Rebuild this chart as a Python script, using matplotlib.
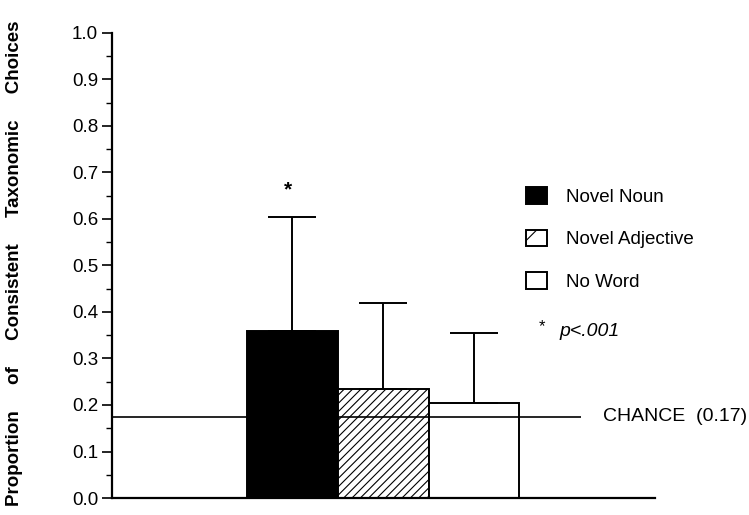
import matplotlib

matplotlib.use("Agg")
import matplotlib.pyplot as plt
from matplotlib.patches import Patch

plt.rcParams["font.family"] = ["Liberation Sans", "DejaVu Sans"]
plt.rcParams["hatch.linewidth"] = 0.8

conditions = ["Novel Noun", "Novel Adjective", "No Word"]
means = [0.36, 0.235, 0.205]
upper_sd = [0.245, 0.185, 0.15]
chance = 0.175
chance_label = "CHANCE  (0.17)"
y_ticks = [0.0, 0.1, 0.2, 0.3, 0.4, 0.5, 0.6, 0.7, 0.8, 0.9, 1.0]
y_minor = [0.05, 0.15, 0.25, 0.35, 0.45, 0.55, 0.65, 0.75, 0.85, 0.95]

fills = ["black", "white", "white"]
hatches = [None, "////", None]

fig = plt.figure(figsize=(7.49, 5.15), dpi=100)
ax = fig.add_axes([0.1495, 0.033, 0.725, 0.903])

x = list(range(len(conditions)))
for xi, m, err, fc, h in zip(x, means, upper_sd, fills, hatches):
    ax.bar(xi, m, width=1.0, color=fc, edgecolor="black", linewidth=1.4, hatch=h, zorder=2)
    ax.errorbar(xi, m, yerr=[[0], [err]], fmt="none", ecolor="black",
                elinewidth=1.4, capsize=17, capthick=1.4, zorder=3)

# chance line runs over the open bars
ax.hlines(chance, -1.98, 3.18, color="black", linewidth=1.2, zorder=4)
ax.text(3.42, chance, chance_label, fontsize=14, va="center", ha="left")

# significance marker
ax.text(x[0] - 0.05, means[0] + upper_sd[0] + 0.057, "*", fontsize=15,
        fontweight="bold", ha="center", va="center")

ax.set_xlim(-1.98, 3.99)
ax.set_ylim(0, 1.0)
ax.set_yticks(y_ticks)
ax.set_yticklabels([f"{t:.1f}" for t in y_ticks], fontsize=13.5)
ax.set_yticks(y_minor, minor=True)
ax.tick_params(axis="y", which="major", length=7, width=1.2, direction="out", pad=3)
ax.tick_params(axis="y", which="minor", length=4, width=1.0, direction="out")
ax.set_xticks([])
for side in ["top", "right"]:
    ax.spines[side].set_visible(False)
for side in ["left", "bottom"]:
    ax.spines[side].set_linewidth(1.6)

ax.set_ylabel("Proportion     of     Consistent     Taxonomic     Choices",
              fontsize=13.5, fontweight="bold")
ax.yaxis.set_label_coords(-0.164, 0.505)

handles = [Patch(facecolor=fc, edgecolor="black", hatch=("/" if h else None), linewidth=1.4)
           for fc, h in zip(fills, hatches)]
ax.legend(handles, conditions, loc="upper left", bbox_to_anchor=(0.763, 0.668),
          frameon=False, fontsize=13.5, handlelength=1.1, handleheight=1.0,
          handletextpad=1.0, labelspacing=1.25, borderaxespad=0, borderpad=0)

ax.text(0.792, 0.368, "*", transform=ax.transAxes, fontsize=12, ha="center", va="center")
ax.text(0.824, 0.357, "p<.001", transform=ax.transAxes, fontsize=14, style="italic",
        ha="left", va="center")

fig.savefig("out.png", dpi=100, facecolor="white")
